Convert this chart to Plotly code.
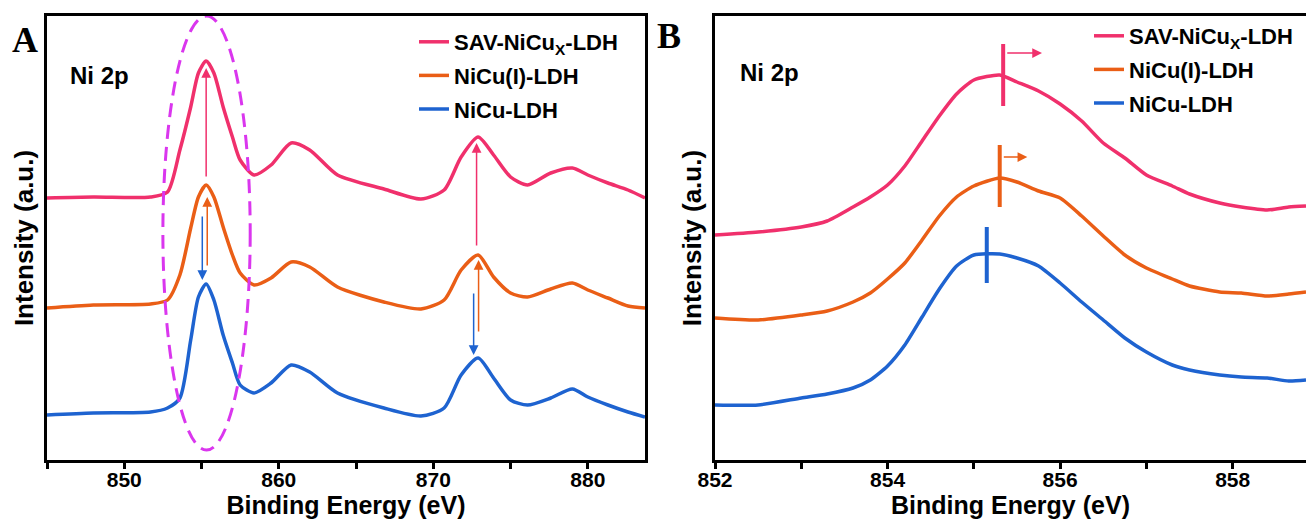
import plotly.graph_objects as go

# ---------------- data ----------------
# Panel A: Ni 2p survey (binding energy, eV) and intensities (a.u.)
energy_a = [845, 848, 851.7, 852.8, 853.6, 854.3, 854.8, 855.3, 855.8, 856.4, 857.0, 857.5,
            858.4, 859.5, 860.8, 862.0, 863.8, 866.8, 869.2, 870.7, 871.8, 872.9, 873.9,
            875.0, 876.1, 877.6, 879.0, 880.0, 881.3, 882.6, 883.7]
sav_a = [262, 263, 263, 268, 310, 353, 387, 399, 387, 353, 323, 300, 285, 295, 317, 310,
         285, 271, 261, 270, 303, 323, 305, 283, 275, 287, 292, 285, 277, 270, 262]
nicu_i_a = [152, 155, 156, 160, 185, 232, 263, 275, 263, 233, 205, 187, 175, 182, 198, 193,
            173, 158, 151, 160, 190, 205, 183, 167, 163, 171, 177, 170, 162, 154, 152]
nicu_a = [45, 47, 48, 52, 62, 120, 163, 176, 160, 125, 97, 75, 67, 77, 95, 88, 67, 52, 44,
          52, 85, 102, 82, 60, 55, 62, 71, 63, 55, 48, 43]

# Panel B: Ni 2p3/2 zoom
energy_b = [852.0, 852.5, 853.0, 853.3, 853.6, 853.8, 854.0, 854.2, 854.4, 854.6, 854.8, 855.0,
            855.3, 855.5, 855.75, 856.0, 856.25, 856.5, 856.75, 857.0, 857.3, 857.5, 857.85,
            858.1, 858.4, 858.65, 858.85]
sav_b = [225, 228, 233, 239, 253, 263, 275, 294, 319, 344, 366, 380, 385, 378, 369, 356, 339,
         317, 302, 285, 274, 266, 257, 253, 250, 253, 254]
nicu_i_b = [142, 140, 145, 149, 158, 167, 181, 197, 220, 244, 263, 274, 282, 278, 269, 262,
            244, 224, 205, 192, 181, 174, 168, 167, 164, 166, 168]
nicu_b = [55, 55, 62, 66, 72, 80, 94, 115, 143, 171, 194, 205, 206, 202, 194, 177, 158, 140,
          122, 108, 95, 90, 85, 83, 82, 79, 80]

series_names = ["SAV-NiCu<sub>X</sub>-LDH", "NiCu(I)-LDH", "NiCu-LDH"]
series_colors = ["#F0306C", "#EA5E16", "#1E63D0"]

tick_vals_a = [850, 860, 870, 880]
tick_text_a = ["850", "860", "870", "880"]
minor_vals_a = [845, 855, 865, 875]
tick_vals_b = [852, 854, 856, 858]
tick_text_b = ["852", "854", "856", "858"]
minor_vals_b = [853, 855, 857]

# peak-shift arrows in panel A: (energy, tail intensity, head intensity, series index)
arrows_a = [
    (855.30, 282, 392, 0), (855.37, 193, 263, 1), (855.05, 245, 180, 2),
    (872.80, 213, 317, 0), (872.93, 127, 200, 1), (872.61, 168, 105, 2),
]
# peak markers in panel B: (peak energy, low, high, arrow end energy, arrow intensity, series)
peaks_b = [
    (855.34, 354, 416, 855.79, 407, 0),
    (855.30, 253, 315, 855.62, 303, 1),
    (855.15, 177, 233, None, None, 2),
]

FONT = "Liberation Sans, Arial, sans-serif"
W, H = 1306, 522

fig = go.Figure()
for name, color, ya in zip(series_names, series_colors, [sav_a, nicu_i_a, nicu_a]):
    fig.add_trace(go.Scatter(x=energy_a, y=ya, mode="lines", name="<b>" + name + "</b>",
                             line=dict(color=color, width=3.5, shape="spline", smoothing=0.7),
                             xaxis="x", yaxis="y", legend="legend", legendgroup=name + "a"))
for name, color, yb in zip(series_names, series_colors, [sav_b, nicu_i_b, nicu_b]):
    fig.add_trace(go.Scatter(x=energy_b, y=yb, mode="lines", name="<b>" + name + "</b>",
                             line=dict(color=color, width=3.5, shape="spline", smoothing=0.6),
                             xaxis="x2", yaxis="y2", legend="legend2", legendgroup=name + "b"))

ydom = [(H - 460) / H, (H - 16) / H]
axis_common = dict(showline=True, linewidth=3, linecolor="black", showgrid=False,
                   zeroline=False, automargin=False)


def xaxis_spec(domain, rng, tv, tt, mv, anchor):
    return dict(domain=domain, range=rng, mirror=True, anchor=anchor,
                tickmode="array", tickvals=tv, ticktext=["<b>" + t + "</b>" for t in tt],
                ticks="outside", ticklen=6, tickwidth=3, tickcolor="black",
                ticklabelstandoff=-7,
                minor=dict(tickmode="array", tickvals=mv, ticks="outside", ticklen=6,
                           tickwidth=3, tickcolor="black", showgrid=False),
                tickfont=dict(size=21, family=FONT),
                title=dict(text="<b>Binding Energy (eV)</b>", font=dict(size=25), standoff=6),
                **axis_common)


def yaxis_spec(anchor, mirror):
    return dict(domain=ydom, range=[0, 444], mirror=mirror, showticklabels=False, ticks="",
                anchor=anchor,
                title=dict(text="<b>Intensity (a.u.)</b>", font=dict(size=26), standoff=3),
                **axis_common)


fig.update_layout(
    width=W, height=H, margin=dict(l=0, r=0, t=0, b=0, autoexpand=False),
    plot_bgcolor="white", paper_bgcolor="white",
    font=dict(family=FONT, color="black"),
    xaxis=xaxis_spec([47 / W, 645 / W], [845, 883.7], tick_vals_a, tick_text_a, minor_vals_a, "y"),
    yaxis=yaxis_spec("x", True),
    xaxis2=xaxis_spec([715 / W, 1.0], [852, 858.85], tick_vals_b, tick_text_b, minor_vals_b, "y2"),
    yaxis2=yaxis_spec("x2", False),
    legend=dict(x=414 / W, y=1 - 21 / H, xanchor="left", yanchor="top",
                bgcolor="rgba(0,0,0,0)", font=dict(size=22, family=FONT),
                tracegroupgap=2, itemwidth=30),
    legend2=dict(x=1089 / W, y=1 - 15 / H, xanchor="left", yanchor="top",
                 bgcolor="rgba(0,0,0,0)", font=dict(size=22, family=FONT),
                 tracegroupgap=2, itemwidth=30),
    showlegend=True,
)

# dashed ellipse around Ni 2p3/2 peak
fig.add_shape(type="circle", xref="x", yref="y", x0=852.5, x1=858.15, y0=10, y1=444,
              line=dict(color="#DA36EE", width=3, dash="14px,8px"))

annotations = []
for e, tail, head, idx in arrows_a:
    annotations.append(dict(x=e, y=head, ax=e, ay=tail, xref="x", yref="y", axref="x",
                            ayref="y", text="", showarrow=True, arrowhead=2, arrowsize=1.3,
                            arrowwidth=1.5, arrowcolor=series_colors[idx], standoff=0,
                            startstandoff=0))
for e, lo, hi, e_end, yarr, idx in peaks_b:
    fig.add_shape(type="line", xref="x2", yref="y2", x0=e, x1=e, y0=lo, y1=hi,
                  line=dict(color=series_colors[idx], width=4))
    if e_end is not None:
        annotations.append(dict(x=e_end, y=yarr, ax=e + 0.03, ay=yarr, xref="x2", yref="y2",
                                axref="x2", ayref="y2", text="", showarrow=True,
                                arrowhead=2, arrowsize=1.3, arrowwidth=1.5,
                                arrowcolor=series_colors[idx], standoff=0, startstandoff=0))

SERIF = "Liberation Serif, Times New Roman, serif"
label_common = dict(xref="paper", yref="paper", showarrow=False, xanchor="center",
                    yanchor="middle")
annotations += [
    dict(text="<b>A</b>", x=25 / W, y=1 - 40 / H, font=dict(size=36, family=SERIF),
         **label_common),
    dict(text="<b>B</b>", x=669 / W, y=1 - 36 / H, font=dict(size=36, family=SERIF),
         **label_common),
    dict(text="<b>Ni 2p</b>", x=100 / W, y=1 - 75 / H, font=dict(size=24), **label_common),
    dict(text="<b>Ni 2p</b>", x=770 / W, y=1 - 72 / H, font=dict(size=24), **label_common),
]
fig.update_layout(annotations=annotations)

fig.write_html("out.html")
